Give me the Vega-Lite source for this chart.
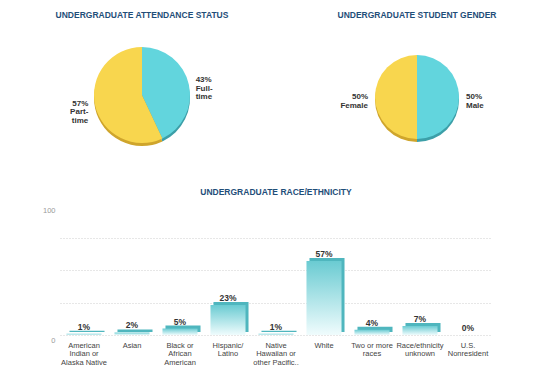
{
  "$schema": "https://vega.github.io/schema/vega-lite/v6.json",
  "padding": {"left": 6, "top": 10, "right": 0, "bottom": 0},
  "background": "white",
  "config": {
    "font": "Liberation Sans",
    "view": {"stroke": null},
    "title": {"font": "Liberation Sans", "fontSize": 8.5, "fontWeight": "bold", "color": "#1f4e79", "anchor": "middle"}
  },
  "spacing": 17,
  "vconcat": [
    {
      "spacing": 88,
      "hconcat": [
        {
          "width": 164,
          "height": 142,
          "title": {"text": "UNDERGRADUATE ATTENDANCE STATUS", "offset": 5},
          "data": {"values": [
            {"status": "Full-time", "pct": 43},
            {"status": "Part-time", "pct": 57}
          ]},
          "transform": [
            {"stack": "pct", "groupby": [], "sort": [{"field": "status", "order": "ascending"}], "as": ["t0", "t1"]},
            {"calculate": "(datum.t0 + datum.t1) / 2", "as": "mid"},
            {"calculate": "datum.pct + '%\\n' + replace(datum.status, '-', '-\\n')", "as": "label"}
          ],
          "layer": [
            {
              "mark": {"type": "arc", "outerRadius": 48, "yOffset": 3},
              "encoding": {
                "theta": {"field": "t0", "type": "quantitative", "scale": {"domain": [0, 100]}},
                "theta2": {"field": "t1"},
                "color": {"field": "status", "type": "nominal", "scale": {"domain": ["Full-time", "Part-time"], "range": ["#3c9fa8", "#cfa52c"]}, "legend": null}
              }
            },
            {
              "mark": {"type": "arc", "outerRadius": 48},
              "encoding": {
                "theta": {"field": "t0", "type": "quantitative", "scale": {"domain": [0, 100]}},
                "theta2": {"field": "t1"},
                "color": {"field": "status", "type": "nominal", "scale": {"domain": ["Full-time", "Part-time"], "range": ["#62d5dd", "#f8d64e"]}, "legend": null}
              }
            },
            {
              "transform": [{"filter": "datum.status == 'Full-time'"}],
              "mark": {"type": "text", "radius": 55, "align": "left", "baseline": "middle", "dy": -3, "fontSize": 8, "fontWeight": "bold", "color": "#333333", "lineBreak": "\n", "lineHeight": 8.5},
              "encoding": {
                "theta": {"field": "mid", "type": "quantitative", "scale": {"domain": [0, 100]}},
                "text": {"field": "label"}
              }
            },
            {
              "transform": [{"filter": "datum.status == 'Part-time'"}],
              "mark": {"type": "text", "radius": 55, "align": "right", "baseline": "middle", "dy": -3, "fontSize": 8, "fontWeight": "bold", "color": "#333333", "lineBreak": "\n", "lineHeight": 8.5},
              "encoding": {
                "theta": {"field": "mid", "type": "quantitative", "scale": {"domain": [0, 100]}},
                "text": {"field": "label"}
              }
            }
          ],
          "resolve": {"scale": {"color": "independent"}}
        },
        {
          "width": 200,
          "height": 146,
          "title": {"text": "UNDERGRADUATE STUDENT GENDER", "offset": 5},
          "data": {"values": [
            {"gender": "Male", "pct": 50},
            {"gender": "Female", "pct": 50}
          ]},
          "transform": [
            {"stack": "pct", "groupby": [], "sort": [{"field": "gender", "order": "descending"}], "as": ["t0", "t1"]},
            {"calculate": "(datum.t0 + datum.t1) / 2", "as": "mid"},
            {"calculate": "datum.pct + '%\\n' + datum.gender", "as": "label"}
          ],
          "layer": [
            {
              "mark": {"type": "arc", "outerRadius": 42, "yOffset": 3},
              "encoding": {
                "theta": {"field": "t0", "type": "quantitative", "scale": {"domain": [0, 100]}},
                "theta2": {"field": "t1"},
                "color": {"field": "gender", "type": "nominal", "scale": {"domain": ["Male", "Female"], "range": ["#3c9fa8", "#cfa52c"]}, "legend": null}
              }
            },
            {
              "mark": {"type": "arc", "outerRadius": 42},
              "encoding": {
                "theta": {"field": "t0", "type": "quantitative", "scale": {"domain": [0, 100]}},
                "theta2": {"field": "t1"},
                "color": {"field": "gender", "type": "nominal", "scale": {"domain": ["Male", "Female"], "range": ["#62d5dd", "#f8d64e"]}, "legend": null}
              }
            },
            {
              "transform": [{"filter": "datum.gender == 'Male'"}],
              "mark": {"type": "text", "radius": 49, "align": "left", "baseline": "middle", "dy": 0, "fontSize": 8, "fontWeight": "bold", "color": "#333333", "lineBreak": "\n", "lineHeight": 8.5},
              "encoding": {
                "theta": {"field": "mid", "type": "quantitative", "scale": {"domain": [0, 100]}},
                "text": {"field": "label"}
              }
            },
            {
              "transform": [{"filter": "datum.gender == 'Female'"}],
              "mark": {"type": "text", "radius": 49, "align": "right", "baseline": "middle", "dy": 0, "fontSize": 8, "fontWeight": "bold", "color": "#333333", "lineBreak": "\n", "lineHeight": 8.5},
              "encoding": {
                "theta": {"field": "mid", "type": "quantitative", "scale": {"domain": [0, 100]}},
                "text": {"field": "label"}
              }
            }
          ],
          "resolve": {"scale": {"color": "independent"}}
        }
      ]
    },
    {
      "width": 432,
      "height": 130,
      "title": {"text": "UNDERGRADUATE RACE/ETHNICITY", "offset": 9},
      "data": {"values": [
        {"group": "American\nIndian or\nAlaska Native", "pct": 1},
        {"group": "Asian", "pct": 2},
        {"group": "Black or\nAfrican\nAmerican", "pct": 5},
        {"group": "Hispanic/\nLatino", "pct": 23},
        {"group": "Native\nHawaiian or\nother Pacific..", "pct": 1},
        {"group": "White", "pct": 57},
        {"group": "Two or more\nraces", "pct": 4},
        {"group": "Race/ethnicity\nunknown", "pct": 7},
        {"group": "U.S.\nNonresident", "pct": 0}
      ]},
      "transform": [{"calculate": "datum.pct + '%'", "as": "label"}],
      "encoding": {
        "x": {
          "field": "group", "type": "nominal", "sort": null, "title": null,
          "scale": {"paddingInner": 0.27, "paddingOuter": 0.135},
          "axis": {"labelExpr": "split(datum.label, '\\n')", "labelAngle": 0, "domain": false, "ticks": false, "tickSize": 0, "labelPadding": 6, "labelFontSize": 7.5, "labelColor": "#444444", "labelLineHeight": 8.5, "labelBaseline": "top", "labelFont": "Liberation Sans"}
        },
        "y": {
          "field": "pct", "type": "quantitative", "title": null,
          "scale": {"domain": [0, 100]},
          "axis": {"values": [0, 25, 50, 75, 100], "labelExpr": "datum.value == 0 || datum.value == 100 ? datum.label : ''", "domain": false, "ticks": false, "tickSize": 0, "labelPadding": 5, "labelOffset": 5, "labelFontSize": 7.5, "labelColor": "#9a9a9a", "minExtent": 54, "gridColor": "#cfcfcf", "gridDash": [1, 2], "gridOpacity": {"condition": {"test": "datum.value == 100", "value": 0}, "value": 1}}
        }
      },
      "layer": [
        {
          "transform": [{"filter": "datum.pct > 0"}],
          "mark": {"type": "bar", "xOffset": 3, "x2Offset": 3, "yOffset": -3, "y2Offset": -3, "color": "#4fb6be"}
        },
        {
          "transform": [{"filter": "datum.pct > 0"}],
          "mark": {"type": "bar", "color": {"gradient": "linear", "x1": 0, "y1": 0, "x2": 0, "y2": 1, "stops": [{"offset": 0, "color": "#6acbd2"}, {"offset": 1, "color": "#f0fcfd"}]}}
        },
        {
          "mark": {"type": "text", "baseline": "alphabetic", "dy": -4, "fontSize": 8.5, "fontWeight": "bold", "color": "#333333"},
          "encoding": {"text": {"field": "label"}}
        }
      ]
    }
  ]
}
